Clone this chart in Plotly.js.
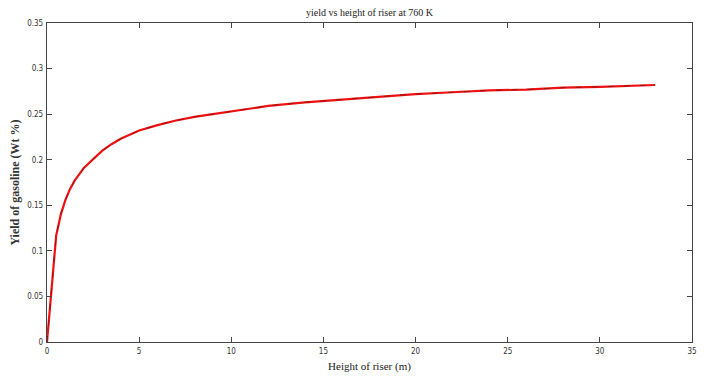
<!DOCTYPE html>
<html>
<head>
<meta charset="utf-8">
<script src="https://cdn.plot.ly/plotly-3.0.1.min.js"></script>
<style>
  html, body { margin: 0; padding: 0; background: #fff; }
  #chart { width: 709px; height: 381px; }
</style>
</head>
<body>
<div id="chart"></div>
<script>
// Riser height (m) and gasoline yield (wt fraction) at 760 K
const riserHeight = [0, 0.5, 0.75, 1, 1.25, 1.5, 2, 2.5, 3, 3.5, 4, 5, 6, 7, 8, 9, 10, 12, 14, 16, 18, 20, 22, 24, 26, 28, 30, 33];
const gasolineYield = [0, 0.117, 0.140, 0.156, 0.168, 0.177, 0.191, 0.201, 0.210, 0.217, 0.223, 0.232, 0.238, 0.243, 0.247, 0.250, 0.253, 0.259, 0.263, 0.266, 0.269, 0.272, 0.274, 0.276, 0.277, 0.279, 0.280, 0.282];

const xTicks = [0, 5, 10, 15, 20, 25, 30, 35];
const yTicks = [0, 0.05, 0.1, 0.15, 0.2, 0.25, 0.3, 0.35];
const yTickText = ['0', '0.05', '0.1', '0.15', '0.2', '0.25', '0.3', '0.35'];

const tickFont = { family: '"Liberation Sans Narrow", "DejaVu Sans Condensed", Arial, sans-serif', size: 8, color: '#333' };
const serif = '"Liberation Serif", "DejaVu Serif", serif';

const traces = [
  {
    x: riserHeight, y: gasolineYield, type: 'scatter', mode: 'lines',
    line: { color: '#ee1111', width: 2.2 },
    hoverinfo: 'skip'
  },
  {
    x: riserHeight, y: gasolineYield, type: 'scatter', mode: 'lines',
    line: { color: '#9a1010', width: 1, dash: '6px,10px' },
    hoverinfo: 'skip'
  }
];

const axisCommon = {
  showgrid: false, zeroline: false,
  showline: true, linecolor: '#444', linewidth: 1.2,
  mirror: 'ticks', ticks: 'inside', ticklen: 5, tickwidth: 1, tickcolor: '#444',
  tickfont: tickFont
};

const layout = {
  width: 709, height: 381,
  margin: { l: 46.5, r: 16.5, t: 23.3, b: 38.7 },
  paper_bgcolor: '#fff', plot_bgcolor: '#fff',
  showlegend: false,
  title: {
    text: 'yield vs height of riser at 760 K',
    font: { family: serif, size: 10, color: '#222' },
    x: 0.5, xref: 'paper', xanchor: 'center',
    y: 1, yref: 'paper', yanchor: 'bottom', pad: { b: 7 }
  },
  xaxis: Object.assign({}, axisCommon, {
    range: [0, 35], tickvals: xTicks, ticklabelstandoff: 1,
    title: { text: 'Height of riser (m)', font: { family: serif, size: 11, color: '#222' }, standoff: 7 }
  }),
  yaxis: Object.assign({}, axisCommon, {
    range: [0, 0.35], tickvals: yTicks, ticktext: yTickText, ticklabelstandoff: 1,
    title: { text: 'Yield of gasoline (Wt %)', font: { family: serif, size: 12, color: '#333', weight: 'bold' }, standoff: 5 }
  })
};

Plotly.newPlot('chart', traces, layout, { displayModeBar: false, staticPlot: true });
</script>
</body>
</html>
